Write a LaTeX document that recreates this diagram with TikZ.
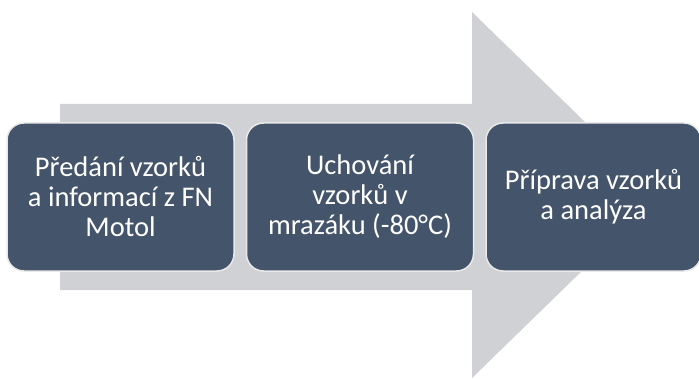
\documentclass[tikz,border=0pt]{standalone}
\usepackage{fontspec}
\setmainfont{Carlito}
\usepackage{tikz}
\usetikzlibrary{positioning}
\usepackage{xcolor}
\definecolor{stepfill}{HTML}{44546A}
\definecolor{arrowgray}{HTML}{D0D1D4}
\definecolor{stepline}{HTML}{E9E9EA}

\begin{document}
\begin{tikzpicture}[
  x=1pt, y=1pt,
  stepbox/.style={rectangle, rounded corners=17pt, draw=stepline, line width=1.5pt,
    fill=stepfill, text=white, minimum width=227pt, minimum height=148pt,
    align=center, inner sep=0pt, font=\fontsize{28.5}{30}\selectfont},
  node distance=11pt,
]
  \useasboundingbox (0,0) rectangle (699,378);

  % Arrow
  \fill[arrowgray] (60,274) -- (472,274) -- (472,366) -- (660,183)
    -- (472,0) -- (472,88) -- (60,88) -- cycle;

  % Steps
  \node[stepbox] (handover) at (120.5,181) {Předání vzorků\\a informací z FN\\Motol};
  \node[stepbox, right=of handover] (storage) {Uchování\\vzorků v\\mrazáku (-80°C)};
  \node[stepbox, right=of storage, minimum width=215pt] (analysis) {Příprava vzorků\\a analýza};
\end{tikzpicture}
\end{document}
